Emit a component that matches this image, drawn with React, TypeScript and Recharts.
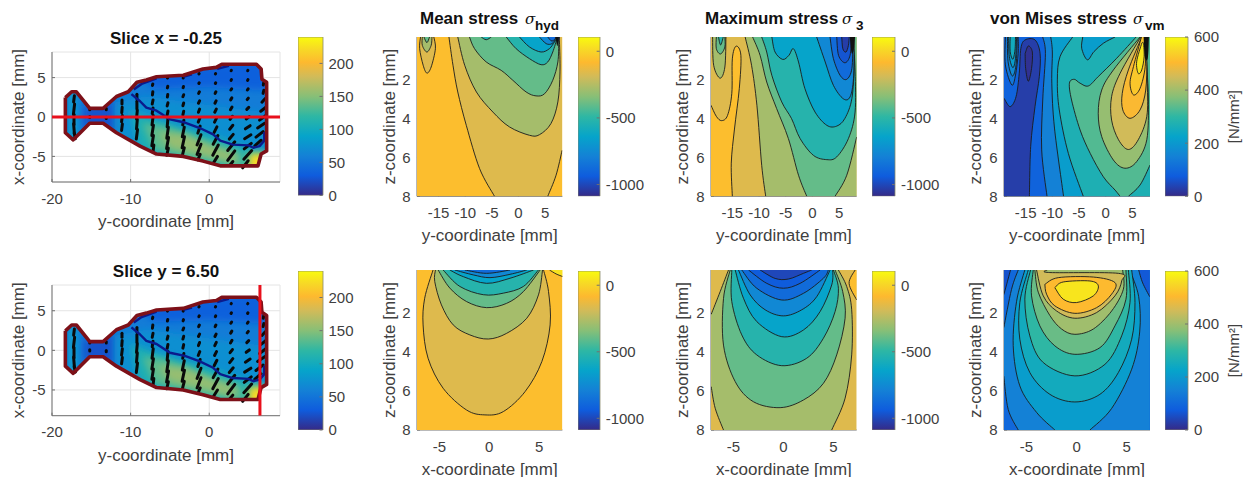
import React from 'react'
import { Bar, CartesianGrid, ComposedChart, Scatter, XAxis, YAxis } from 'recharts'

type Pt = [number, number]
type Seg = Pt[]
type Shape = Seg[]

const parula = ['#352a87', '#0f5cdd', '#1481d6', '#06a4ca', '#2eb7a4', '#87bf77', '#d1bb59', '#fdb92f', '#f7d826', '#f9fb0e']
const parulaStops = [0, 0.125, 0.25, 0.375, 0.5, 0.625, 0.75, 0.84, 0.92, 1]

// slice map, horizontal = y-coordinate, vertical = x-coordinate
const outline: Seg = [
  [-18.3, 2.46], [-17.5, 3.2], [-16.9, 3.2], [-15.2, 1.1], [-13.5, 1.1], [-11.8, 2.6], [-10.3, 3.2], [-9.2, 4.4], [-8, 4.7],
  [-6.7, 5.1], [-3.3, 5.3], [-0.8, 6.1], [0.9, 6.3], [1.6, 6.7], [6, 6.7], [6.6, 6.1], [6.7, 4.8], [7.3, 4.4], [7.3, -4.3],
  [6.6, -4.7], [6.2, -6.2], [1.4, -6.2], [-0.8, -5.6], [-3.3, -5], [-6.7, -4.7], [-8.8, -3.7], [-11.8, -2], [-13.5, -0.8],
  [-15.2, -0.8], [-17.3, -2.9], [-18.3, -2], [-18.3, 2.46],
]
const stressFront: Seg = [
  [-9.9, 2.9], [-8.8, 2], [-8, 1.2], [-6.7, 0.8], [-5, -0.3], [-3.1, -0.7], [-1.2, -1.4], [0.5, -2.2], [1.4, -3], [3, -3.5],
  [5, -3.6], [5.6, -3.9], [6.4, -3.7], [7, -3], [7, -1.9],
]
const frontTopA: Seg = [[-9.6, 3.5], [-8.6, 4.2], [-6.7, 4.9]]
const frontTopB: Seg = [[-3.3, 5.1], [-2.2, 5.4]]
const frontTopC: Seg = [[1, 6.1], [2.5, 6.5]]
const mapValues = [56, 34, 24, 88, 72, 108, 136, 156, 222]
const mapPatches: Seg[] = [
  [[-19, 4], [8, 8], [8, -8], [-19, -4]],
  [[-9, 5.5], [7, 7.5], [7.5, 3.4], [0, 3.8], [-7, 3.6]],
  [[-16, 1.4], [-12, 2], [-12, -2], [-16, -1.4]],
  [[-17.9, 3.2], [-17, 3.2], [-16.7, -3], [-17.9, -3]],
  [[-12, 1.8], [-8, 2.6], [0, 1.5], [7.5, 0.5], [7.5, -7], [-12, -3]],
  [[-10, 0.8], [-6, -0.6], [0, -2.2], [5, -4], [7.5, -4.5], [6, -7], [-2, -6], [-9, -4]],
  [[-8.5, -0.8], [-5.5, -1.2], [-1, -3], [4, -4.5], [4.5, -6.4], [0, -5.6], [-7, -4.2]],
  [[-6.5, -2], [-3, -2.2], [0, -3.6], [3.5, -4.7], [3.2, -5.8], [-1, -4.8], [-5, -3.9]],
  [[5, -4.6], [7.5, -4.6], [7.5, -7], [5, -7]],
]
// [y, x, dy, dx] of each black stroke
const quiver = [
  [-17.2, 2.3, 0.1, 0.8], [-17.2, 1, 0.15, 1.3], [-17.2, -0.3, 0, 1.3], [-17.2, -1.5, -0.1, 1.3], [-17.1, -2.4, -0.15, 0.7],
  [-15.2, 1, 0, 0.15], [-15.2, 0, 0, 0.15], [-13.1, 1, 0, 0.15], [-13.1, -0.1, 0, 0.15],
  [-11.1, 1.9, 0, 0.5], [-11.1, 0.9, 0.05, 0.7], [-11.1, -0.2, 0.1, 0.8], [-11.1, -1.3, 0.1, 0.8],
  [-9.2, 2.6, 0, 0.6], [-9.2, 1.5, 0, 1], [-9.2, 0.3, 0.1, 1.1], [-9.2, -0.9, 0.1, 1.2], [-9.2, -2.2, 0.15, 1.2],
  [-7.2, 4.1, 0.05, 0.2], [-7.2, 3, 0.05, 0.4], [-7.2, 1.9, 0.1, 0.5], [-7.2, 0.8, 0.1, 0.7], [-7.2, -0.4, 0.15, 1.2], [-7.2, -1.7, 0.2, 1.3], [-7.2, -3, 0.2, 1.3], [-7.1, -4, 0.1, 0.9],
  [-5.3, 5, 0.03, 0.1], [-5.3, 3.8, 0.05, 0.2], [-5.3, 2.7, 0.05, 0.3], [-5.3, 1.6, 0.1, 0.4], [-5.3, 0.5, 0.1, 0.5], [-5.3, -0.7, 0.1, 1.1], [-5.3, -2, 0.2, 1.4], [-5.3, -3.3, 0.25, 1.4], [-5.3, -4.4, 0.2, 0.9],
  [-3.3, 5, 0.03, 0.1], [-3.3, 3.8, 0.05, 0.15], [-3.3, 2.7, 0.1, 0.25], [-3.3, 1.6, 0.1, 0.35], [-3.3, 0.5, 0.1, 0.45], [-3.3, -0.7, 0.15, 0.6], [-3.3, -1.9, 0.25, 1.2], [-3.3, -3.2, 0.3, 1.4], [-3.3, -4.4, 0.25, 1],
  [-1.3, 5.5, 0.03, 0.05], [-1.3, 4.3, 0.05, 0.1], [-1.3, 3.1, 0.1, 0.2], [-1.3, 1.9, 0.15, 0.3], [-1.3, 0.8, 0.15, 0.4], [-1.3, -0.4, 0.2, 0.5], [-1.3, -1.6, 0.3, 0.9], [-1.3, -2.9, 0.5, 1.3], [-1.3, -4.1, 0.5, 1.3], [-1.3, -5.1, 0.3, 0.7],
  [0.8, 5.5, 0.03, 0.05], [0.8, 4.3, 0.05, 0.1], [0.8, 3.1, 0.1, 0.2], [0.8, 1.9, 0.15, 0.3], [0.8, 0.8, 0.2, 0.4], [0.8, -0.4, 0.25, 0.5], [0.8, -1.6, 0.35, 0.7], [0.8, -2.9, 0.6, 1.1], [0.8, -4.2, 0.7, 1.3], [0.8, -5.4, 0.5, 0.8],
  [2.8, 5.9, 0.03, 0.05], [2.8, 4.7, 0.05, 0.1], [2.8, 3.5, 0.1, 0.15], [2.8, 2.3, 0.15, 0.25], [2.8, 1.1, 0.2, 0.35], [2.8, -0.1, 0.3, 0.4], [2.8, -1.3, 0.4, 0.5], [2.8, -2.5, 0.5, 0.6], [2.8, -3.7, 0.9, 1.1], [2.8, -4.9, 0.9, 1.2], [2.8, -5.9, 0.4, 0.5],
  [4.9, 5.9, 0.03, 0.05], [4.9, 4.7, 0.05, 0.1], [4.9, 3.5, 0.1, 0.15], [4.9, 2.3, 0.15, 0.2], [4.9, 1.1, 0.25, 0.25], [4.9, -0.1, 0.4, 0.3], [4.9, -1.3, 0.6, 0.4], [4.9, -2.5, 0.8, 0.5], [4.9, -3.7, 0.9, 0.7], [4.9, -4.8, 1, 1.1], [4.6, -6, 0.7, 0.9],
  [6.9, 4.2, 0.05, 0.3], [6.9, 3.2, 0.1, 0.4], [6.9, 2.1, 0.4, 0.45], [6.9, 1, 0.7, 0.55], [6.8, -0.1, 0.8, 0.6], [6.6, -1.1, 0.9, 0.6], [6.4, -2.2, 0.9, 0.7], [6.2, -3.3, 0.8, 0.7],
]

// top row, horizontal = y-coordinate, vertical = z-coordinate
const hydTopLevels = [-160, -160, -280, -400, -280, -400, -520, -520, -640, -760, -880, -1000]
const hydTopCurves: Shape[] = [
  [[[-13.06, -0.17], [-12.3, 1.28], [-11.4, 2.65], [-9.8, 4.36], [-7.3, 6.58], [-4.5, 8]], [[5.5, 8], [7.06, 6.92], [8.2, 5.64]], [[8.2, -0.17]]],
  [[[-18.4, -0.17], [-18.56, 0.43], [-17.9, 1.28], [-17.2, 1.68], [-16.4, 1.37], [-15.6, 0.43], [-15.9, -0.17]]],
  [[[-11.4, -0.17], [-10.1, 1.28], [-7.9, 2.65], [-4.8, 3.68], [-1.7, 4.44], [2.06, 4.87], [3.94, 4.84], [6.1, 4.27], [7.4, 3.16], [7.8, 1.62], [7.7, 0.09], [7.6, -0.17]]],
  [[[-9.2, -0.17], [-8.25, 0.43], [-6.06, 1.11], [-3.25, 1.54], [-1.06, 2.05], [1.44, 2.65], [3.3, 2.85], [4.9, 2.74], [6.44, 2.05], [7.4, 1.11], [7.56, 0.09], [7.5, -0.17]]],
  [[[-18.06, -0.17], [-18.06, 0.26], [-17.2, 0.6], [-16.4, 0.26], [-16.25, -0.17]]],
  [[[-17.75, -0.17], [-17.2, 0.12], [-16.7, -0.17]]],
  [[[-2.3, -0.17], [-0.44, 0.43], [2.06, 0.94], [4.25, 1.25], [5.5, 1.11], [6.44, 0.6], [7.25, -0.1], [7.3, -0.17]]],
  [[[-7, -0.17], [-6.06, -0.03], [-5.1, -0.17]]],
  [[[0.19, -0.17], [2.06, 0.34], [4.25, 0.6], [5.8, 0.43], [6.75, 0.09], [7.4, -0.17]]],
  [[[3.94, -0.17], [5.2, 0.17], [6.3, 0.17], [7.06, -0.1], [7.4, -0.17]]],
  [[[5.5, -0.17], [6.3, 0.04], [7.2, -0.17]]],
  [[[6.9, -0.17], [7.4, 0.05], [7.7, -0.17]]],
]
const hydTopTip: Seg = [[7, -0.17], [7.3, 0.3], [7.6, -0.17]]

const maxTopLevels = [-70, -280, -280, -400, -400, -520, -520, -640, -760, -880, -960, -1030]
const maxTopCurves: Shape[] = [
  [[[-19, 3.33], [-18, 3.9], [-17, 4.12], [-15.9, 3.85], [-15.1, 2.72], [-15, 0.95], [-14.3, 0.3], [-13.4, 0.77], [-13.7, 2.48], [-14.6, 4.55], [-15.2, 6.3], [-15, 8]], [[-19, 8]]],
  [[[-12.6, -0.17], [-11.4, 1.28], [-10.4, 3.33], [-9.5, 6.41], [-8.75, 8]], [[8.3, 8]], [[8.3, -0.17]]],
  [[[-18.7, -0.17], [-18.5, 1.28], [-17.3, 1.94], [-16.4, 1.37], [-16.2, -0.17]]],
  [[[-11.2, -0.17], [-9.8, 0.77], [-8.56, 2.14], [-6.7, 3.5], [-4.5, 5.04], [-2.6, 6.92], [-1.06, 8]], [[4.25, 8], [6.44, 6.92], [8.3, 4.96]], [[8.3, -0.17]]],
  [[[-18, -0.17], [-18, 0.43], [-17.2, 0.7], [-16.4, 0.34], [-16.4, -0.17]]],
  [[[-9.5, -0.17], [-8.56, 0.6], [-7.6, 1.8], [-5.75, 3.16], [-3.9, 4.02], [-2.3, 5.04], [0.19, 5.9], [2.7, 6.12], [4.56, 5.98], [6.75, 5.04], [8, 3.68], [8, 1.62], [7.7, 0.09], [7.56, -0.17]]],
  [[[-17.6, -0.17], [-17.2, 0.24], [-16.7, -0.17]]],
  [[[-7.6, -0.17], [-7, 0.6], [-5.56, 0.98], [-4.4, 0.77], [-3.56, 0.43], [-2.6, 1.11], [-1.4, 2.48], [0.5, 3.68], [2.7, 4.36], [4.56, 4.4], [6.1, 4], [7.4, 2.99], [7.8, 1.28], [7.56, 0.09], [7.5, -0.17]]],
  [[[0.8, -0.17], [2.4, 1.11], [3.94, 2.31], [5.8, 3], [7.06, 2.9], [7.7, 1.97], [7.8, 0.26], [7.7, -0.17]]],
  [[[3.3, -0.17], [3.94, 0.94], [5.2, 1.8], [6.44, 2], [7.4, 1.45], [7.56, 0.09], [7.5, -0.17]]],
  [[[4.56, -0.17], [4.9, 0.77], [6.1, 1.15], [7.06, 0.77], [7.3, -0.17]]],
  [[[5.5, -0.17], [5.7, 0.43], [6.3, 0.6], [6.75, 0.26], [6.9, -0.17]]],
]
const maxTopTip: Seg = [[7, -0.17], [7.35, 0.65], [7.75, 0.5], [8, -0.17]]

const vmTopLevels = [30, 10, 130, 170, 210, 250, 150, 210, 270, 210, 330, 390, 450, 500, 525, 570]
const vmTopCurves: Shape[] = [
  [[[-19.06, 2.97], [-17.9, 3.4], [-16.8, 2.89], [-16.2, 1.69], [-15.9, 0.41], [-15.1, -0.02], [-13.25, -0.02], [-12.3, 0.67], [-12.44, 1.86], [-13.25, 3.4], [-14.06, 5.45], [-14.3, 8]], [[-19.06, 8]]],
  [[[-15.1, 0.68], [-14.5, 0.29], [-13.75, 0.6], [-13.9, 1.45], [-14.5, 2.1], [-15, 1.45], [-15.1, 0.68]]],
  [[[-18.8, -0.17], [-18.8, 1.26], [-17.6, 2.29], [-16.9, 1.78], [-16.4, 0.67], [-16.4, -0.17]]],
  [[[-18.4, -0.17], [-18.3, 1.09], [-17.5, 1.83], [-16.8, 1.26], [-16.56, -0.17]]],
  [[[-18.2, -0.17], [-18.06, 0.84], [-17.4, 1.4], [-16.9, 0.92], [-16.7, -0.17]]],
  [[[-17.9, -0.17], [-17.9, 0.58], [-17.4, 0.97], [-17, 0.5], [-16.9, -0.17]]],
  [[[-11.8, -0.17], [-11.3, 0.67], [-11.8, 3.06], [-12, 5.62], [-11, 8]], [[8.3, 8]], [[8.3, -0.17]]],
  [[[-10.3, -0.17], [-10, 0.6], [-10.1, 2.2], [-9.6, 4.5], [-7.9, 8]], [[8.3, 8]], [[8.3, -0.17]]],
  [[[-6.2, -0.17], [-8.56, 0.84], [-9.06, 2.03], [-8.7, 3.57], [-7, 5.8], [-4.2, 8]], [[8.3, 8]], [[8.3, -0.17]]],
  [[[-4.3, -0.17], [-4.5, 0.41], [-3.44, 1], [-2.2, 0.58], [-0.44, 0.15], [1.75, -0.17]]],
  [[[5.7, -0.17], [2.06, 0.92], [-1.4, 1.86], [-3.25, 2.34], [-4.8, 2.2], [-5.9, 2], [-6.8, 2.2], [-6.4, 3.06], [-4.8, 4.6], [-2.9, 5.8], [-0.44, 7], [1.75, 7.68], [2.7, 8]], [[4.25, 8], [6.44, 7.42], [8.3, 6.4]], [[8.3, -0.17]]],
  [[[6.44, -0.17], [1.44, 1.52], [-0.75, 2.55], [-1.4, 3.74], [-0.75, 4.94], [1.44, 6.14], [3.6, 6.56], [5.8, 6.22], [7.7, 5.1], [8, 3.06], [7.7, 1.35], [7.4, -0.17]]],
  [[[6.56, -0.17], [2.7, 1.69], [1.1, 2.89], [1.1, 4.09], [2.4, 5.1], [4.25, 5.6], [6.1, 5.1], [7.7, 3.9], [7.8, 2.2], [7.5, -0.17]]],
  [[[6.75, -0.17], [4.25, 1.52], [3.1, 2.72], [3.2, 3.57], [4.56, 4], [6.44, 3.57], [7.5, 2.55], [7.7, 1], [7.5, -0.17]]],
  [[[6.7, -0.17], [5.2, 1.35], [4.56, 2.2], [5.2, 2.8], [6.44, 2.46], [7.4, 1.35], [7.44, -0.17]]],
  [[[6.75, 0.15], [5.8, 1.1], [6.1, 1.7], [6.75, 1.52], [7.2, 0.84], [7.06, 0.15], [6.75, 0.15]]],
]
const vmTopTip: Seg = [[7.1, -0.17], [7.35, 0.9], [7.9, 0.9], [8.1, -0.17]]

// bottom row, horizontal = x-coordinate, vertical = z-coordinate
const hydBotLevels = [40, -160, -280, -400, -520, -640, -760, -880]
const hydBotCurves: Shape[] = [
  [[[6.04, -0.16], [6.7, 0.04], [7.38, 0.18]], [[7.38, -0.16]]],
  [[[-5.64, -0.16], [-6.48, 1.28], [-6.64, 2.64], [-6.14, 4.34], [-4.63, 5.87], [-2.28, 6.98], [-0.44, 7.23], [1.41, 7.06], [3.59, 6.04], [5.27, 4.51], [6.1, 2.64], [5.94, 0.94], [5.44, -0.16]]],
  [[[-5.4, -0.16], [-5.47, 0.43], [-4.8, 1.62], [-3.62, 2.64], [-1.95, 3.15], [-0.1, 3.36], [1.74, 3.07], [3.76, 2.3], [4.93, 1.11], [5.34, -0.16]]],
  [[[-5.13, -0.16], [-3.96, 0.76], [-2.28, 1.45], [-0.27, 1.76], [1.74, 1.54], [3.42, 0.94], [5.1, -0.16]]],
  [[[-4.63, -0.16], [-2.95, 0.68], [-0.6, 1.1], [1.41, 1.02], [3.42, 0.68], [4.93, -0.16]]],
  [[[-3.96, -0.16], [-2.6, 0.18], [-0.27, 0.52], [2.08, 0.26], [4.43, -0.16]]],
  [[[-3.46, -0.16], [-1.6, 0.09], [0.07, 0.23], [2.08, 0.06], [3.76, -0.16]]],
  [[[-2.45, -0.16], [-0.27, 0.01], [2.08, -0.16]]],
]

const maxBotLevels = [-70, -280, -400, -520, -640, -760, -880, -940, -1000]
const maxBotCurves: Shape[] = [
  [[[7.17, -0.16], [6.57, 0.52], [7.33, 1.37]], [[7.33, -0.16]]],
  [[[-5.5, -0.16], [-6.33, 0.94], [-7.23, 2.1]], [[-7.23, 5.79], [-6.83, 6.89], [-6, 8]], [[4.83, 8], [6.17, 6.38], [6.83, 4.17], [6.83, 1.87], [6.33, 0.68], [5.5, -0.16]]],
  [[[-5.33, -0.16], [-6, 1.3], [-6, 3.67], [-4.83, 5.53], [-3, 6.56], [-0.33, 6.86], [2, 6.47], [4, 5.62], [5.33, 4.17], [6.17, 2.3], [5.93, 0.94], [5.17, -0.16]]],
  [[[-5.17, -0.16], [-5.17, 1.45], [-4.17, 3.15], [-2.67, 4.17], [-0.17, 4.72], [2.33, 4.34], [4, 3.32], [5.17, 1.96], [5.5, 0.77], [5, -0.16]]],
  [[[-4.83, -0.16], [-4, 1.28], [-2.67, 2.47], [-0.17, 3.24], [2, 2.9], [3.67, 1.96], [4.83, 0.6], [4.93, -0.16]]],
  [[[-4.5, -0.16], [-3.33, 1.11], [-1.83, 1.87], [0, 2.18], [1.83, 1.87], [3.33, 1.2], [4.67, -0.16]]],
  [[[-4.17, -0.16], [-2.67, 0.77], [-0.17, 1.37], [2, 1.03], [4, 0.26], [4.5, -0.16]]],
  [[[-3.5, -0.16], [-1.67, 0.52], [0, 0.77], [1.67, 0.52], [3.67, -0.16]]],
  [[[-2.33, -0.16], [-0.83, 0.27], [0.5, 0.3], [2, 0.01], [2.83, -0.16]]],
]

const vmBotLevels = [150, 60, 70, 210, 250, 300, 350, 400, 450, 505, 570]
const vmBotCurves: Shape[] = [
  [[[-5.83, -0.16], [-6.5, 0.83], [-7.27, 2.78]], [[-7.27, 5.25], [-6.83, 6.95], [-5.83, 8]], [[7.3, 8]], [[7.3, -0.16]]],
  [[[-6.6, -0.16], [-7, 0.6], [-7.27, 1.1]], [[-7.27, -0.16]]],
  [[[6.2, -0.16], [6.6, 0.5], [7.3, 1.2]], [[7.3, -0.16]]],
  [[[-5.17, -0.16], [-6, 1.46], [-6.33, 3.7], [-5.67, 5.75], [-4, 7.1], [-2.17, 8]], [[1.33, 8], [3.5, 6.9], [5.5, 4.9], [6.3, 3], [6.2, 1.2], [5.3, -0.16]]],
  [[[-4.83, -0.16], [-5.67, 1.5], [-5.67, 3.37], [-4.67, 5.07], [-2.67, 6.18], [-0.17, 6.57], [2.33, 6.18], [4.17, 5.07], [5.5, 3.37], [5.83, 1.5], [5.5, -0.16]]],
  [[[-4.6, -0.16], [-5.17, 1.33], [-4.67, 3.2], [-3.33, 4.56], [-0.17, 5.24], [2.83, 4.65], [4.5, 3.2], [5.33, 1.5], [5.17, -0.16]]],
  [[[-4.33, -0.16], [-4.5, 1.16], [-3.67, 2.69], [-2.17, 3.71], [-0.17, 4.14], [2.33, 3.8], [3.83, 2.69], [4.93, 1.33], [4.93, -0.16]]],
  [[[-4.17, -0.16], [-3.83, 0.97], [-2.67, 2.16], [-1.5, 2.85], [-0.17, 3.12], [1.67, 2.85], [3.5, 1.93], [4.67, 0.82], [4.6, -0.16]]],
  [[[-4, -0.16], [-3.33, 1.16], [-2, 1.93], [-0.17, 2.3], [2, 2.01], [3.83, 1.16], [4.5, 0.4], [4.17, 0.01], [-2.67, -0.03], [-2.93, -0.16]]],
  [[[-3.17, 0.57], [-1.83, 0.23], [1.67, 0.2], [3.83, 0.48], [3.5, 1.07], [2, 1.76], [-0.17, 2.05], [-2.17, 1.67], [-3, 1.07], [-3.17, 0.57]]],
  [[[-2.17, 0.74], [-1.33, 0.45], [1.33, 0.4], [2.17, 0.65], [1.67, 1.16], [0, 1.5], [-1.33, 1.33], [-2.17, 0.74]]],
]

const sliceTicks = [0, 50, 100, 150, 200]
const stressTicks = [-1000, -500, 0]
const vmTicks = [0, 200, 400, 600]
const zTicks = [2, 4, 6, 8]
const yCoordTicks = [-15, -10, -5, 0, 5]
const xCoordTicks = [-5, 0, 5]

const TEXT = '#404040'
const FONT = '"Liberation Sans", Arial, sans-serif'

function hexRgb(h: string) {
  return [1, 3, 5].map((i) => parseInt(h.slice(i, i + 2), 16))
}

function colorAt(v: number, min: number, max: number) {
  const t = Math.max(0, Math.min(0.9999, (v - min) / (max - min)))
  let i = 0
  while (parulaStops[i + 1] <= t) i++
  const f = (t - parulaStops[i]) / (parulaStops[i + 1] - parulaStops[i])
  const a = hexRgb(parula[i])
  const b = hexRgb(parula[i + 1])
  const c = a.map((n, k) => Math.round(n + (b[k] - n) * f))
  return `rgb(${c.join(',')})`
}

// catmull-rom through the points, the M/L in front is up to the caller
function smoothTo(p: { x: number; y: number }[]) {
  let d = ''
  for (let i = 0; i < p.length - 1; i++) {
    const p0 = p[Math.max(i - 1, 0)]
    const p1 = p[i]
    const p2 = p[i + 1]
    const p3 = p[Math.min(i + 2, p.length - 1)]
    d += `C${p1.x + (p2.x - p0.x) / 6},${p1.y + (p2.y - p0.y) / 6} ${p2.x - (p3.x - p1.x) / 6},${p2.y - (p3.y - p1.y) / 6} ${p2.x},${p2.y}`
  }
  return d
}

const noDot = () => <g />

function toRows(pts: Seg) {
  return pts.map(([x, y]) => ({ x, y }))
}

function contour(key: string, shape: Shape, fill: string, stroke = true) {
  const sizes = shape.map((s) => s.length)
  const render = (props: any) => {
    const pts = props.points as { x: number; y: number }[]
    let at = 0
    let fillD = ''
    const lines: string[] = []
    sizes.forEach((n) => {
      const part = pts.slice(at, at + n)
      at += n
      fillD += `${fillD ? 'L' : 'M'}${part[0].x},${part[0].y}${smoothTo(part)}`
      if (n > 1) lines.push(`M${part[0].x},${part[0].y}${smoothTo(part)}`)
    })
    return (
      <g>
        <path d={fillD + 'Z'} fill={fill} stroke="none" />
        {stroke && <path d={lines.join('')} fill="none" stroke="#1c1c1c" strokeWidth={0.9} />}
      </g>
    )
  }
  return <Scatter key={key} data={toRows(shape.flat())} line={render} shape={noDot} isAnimationActive={false} legendType="none" />
}

function background(key: string, xd: number[], yd: number[], fill: string) {
  return contour(key, [[[xd[0], yd[0]]], [[xd[1], yd[0]]], [[xd[1], yd[1]]], [[xd[0], yd[1]]]], fill, false)
}

function linePath(pts: { x: number; y: number }[]) {
  return pts.map((p, i) => `${i ? 'L' : 'M'}${p.x},${p.y}`).join('')
}

function polyline(key: string, pts: Seg, stroke: string, width: number) {
  const render = (props: any) => (
    <path d={linePath(props.points)} fill="none" stroke={stroke} strokeWidth={width} strokeLinejoin="round" />
  )
  return <Scatter key={key} data={toRows(pts)} line={render} shape={noDot} isAnimationActive={false} legendType="none" />
}

function sliceMap(id: string, cut: Seg) {
  const clipId = `clip-${id}`
  const makeClip = (props: any) => (
    <clipPath id={clipId}>
      <path d={linePath(props.points) + 'Z'} />
    </clipPath>
  )
  const arrow = (p: any) => {
    const [, , dh, dv] = p.payload.q
    const k = 7.87 / 2
    return (
      <line x1={p.cx - dh * k} y1={p.cy + dv * k} x2={p.cx + dh * k} y2={p.cy - dv * k} stroke="#0a0a0a" strokeWidth={3} strokeLinecap="round" />
    )
  }
  const items = [
    <Scatter key="clip" data={toRows(outline)} line={makeClip} shape={noDot} isAnimationActive={false} legendType="none" />,
    ...mapPatches.map((patch, i) => {
      const render = (props: any) => (
        <path d={linePath(props.points) + 'Z'} fill={colorAt(mapValues[i], 0, 240)} clipPath={`url(#${clipId})`} filter={i ? `url(#soft-${id})` : undefined} />
      )
      return <Scatter key={`patch${i}`} data={toRows(patch)} line={render} shape={noDot} isAnimationActive={false} legendType="none" />
    }),
    <Scatter key="quiver" data={quiver.map((q) => ({ x: q[0], y: q[1], q }))} shape={arrow} isAnimationActive={false} legendType="none" />,
    polyline('frontA', frontTopA, '#0b1a8c', 2.4),
    polyline('frontB', frontTopB, '#0b1a8c', 2.4),
    polyline('frontC', frontTopC, '#0b1a8c', 2.4),
    polyline('front', stressFront, '#0b1a8c', 2.4),
    polyline('outline', outline, '#7d1018', 3.6),
    polyline('cut', cut, '#e8101c', 3),
  ]
  return (
    <>
      <defs>
        <filter id={`soft-${id}`} x="-30%" y="-30%" width="160%" height="160%">
          <feGaussianBlur stdDeviation="3.5" />
        </filter>
      </defs>
      {items}
    </>
  )
}

function bands(id: string, levels: number[], curves: Shape[], base: number, xd: number[], yd: number[], min: number, max: number, tip?: Seg) {
  return [
    background(`${id}-bg`, xd, yd, colorAt(base, min, max)),
    ...curves.map((c, i) => contour(`${id}-${i}`, c, colorAt(levels[i], min, max))),
    ...(tip ? [contour(`${id}-tip`, [tip], '#101010', false)] : []),
  ]
}

function Panel(props: any) {
  const { x, y, w, h, xDomain, yDomain, xTicks, yTicks, xLabel, yLabel, reversed, labelGap, grid, children } = props
  return (
    <div style={{ position: 'absolute', left: x - 50, top: y - 8 }}>
      <ComposedChart width={w + 60} height={h + 66} margin={{ top: 8, right: 10, left: 0, bottom: 0 }} style={{ fontFamily: FONT }}>
        {grid && <CartesianGrid stroke="#e4e4e4" strokeWidth={1} />}
        <XAxis dataKey="x" type="number" domain={xDomain} ticks={xTicks} interval={0} allowDataOverflow height={58} tickSize={-3} tickMargin={14}
          stroke="#707070" tick={{ fill: TEXT, fontSize: 15 }}
          label={{ value: xLabel, position: 'insideBottom', offset: 13, fill: TEXT, fontSize: 17 }} />
        <YAxis dataKey="y" type="number" domain={yDomain} ticks={yTicks} interval={0} allowDataOverflow reversed={reversed} width={50} tickSize={-3} tickMargin={9.5}
          stroke="#707070" tick={{ fill: TEXT, fontSize: 15 }}
          label={{ value: yLabel, angle: -90, position: 'insideLeft', offset: 50 - labelGap, fill: TEXT, fontSize: 17, style: { textAnchor: 'middle' } }} />
        {children}
      </ComposedChart>
    </div>
  )
}

function ColorBar({ id, x, y, w, h, min, max, ticks, unit }: any) {
  const rows = [{ k: 'c', range: [min, max] }]
  return (
    <div style={{ position: 'absolute', left: x, top: y - 10 }}>
      <ComposedChart width={w + 66} height={h + 20} data={rows} margin={{ top: 10, right: 0, left: 0, bottom: 10 }} barCategoryGap={0} style={{ fontFamily: FONT }}>
        <defs>
          <linearGradient id={id} x1="0" y1="1" x2="0" y2="0">
            {parula.map((c, i) => (
              <stop key={c} offset={parulaStops[i]} stopColor={c} />
            ))}
          </linearGradient>
        </defs>
        <XAxis dataKey="k" hide />
        <YAxis orientation="right" type="number" domain={[min, max]} ticks={ticks} interval={0} allowDataOverflow width={66} axisLine={false} tickSize={-3} tickMargin={9}
          stroke="#707070" tick={{ fill: TEXT, fontSize: 15 }}
          label={unit ? { value: unit, angle: -90, position: 'insideRight', offset: 0, dx: -20, fill: TEXT, fontSize: 15, style: { textAnchor: 'middle' } } : undefined} />
        <Bar dataKey="range" fill={`url(#${id})`} stroke="#8a8a6a" strokeWidth={0.8} isAnimationActive={false} />
      </ComposedChart>
    </div>
  )
}

function Title({ x, y, text, center, sub, sigmaX, subX }: any) {
  const base: React.CSSProperties = { position: 'absolute', top: y, whiteSpace: 'nowrap', color: '#111', lineHeight: '20px' }
  return (
    <>
      <div style={{ ...base, left: x, fontFamily: FONT, fontWeight: 'bold', fontSize: 17, transform: center ? 'translateX(-50%)' : undefined }}>{text}</div>
      {sub && <div style={{ ...base, left: sigmaX, fontFamily: '"DejaVu Serif", serif', fontStyle: 'italic', fontSize: 15 }}>σ</div>}
      {sub && <div style={{ ...base, left: subX, top: y + 7, fontFamily: FONT, fontWeight: 'bold', fontSize: 13.5 }}>{sub}</div>}
    </>
  )
}

const mapX = [-20, 9]
const mapY = [-8.25, 8.25]
const topX = [-19.06, 8.25]
const botX = [-7.25, 7.33]
const topZ = [-0.17, 8]
const botZ = [-0.16, 8]

export default function App() {
  return (
    <div style={{ position: 'absolute', left: 0, top: 0, width: 1251, height: 477, overflow: 'hidden', background: '#fff' }}>
      <Title x={166} y={29} text="Slice x = -0.25" center />
      <Title x={166} y={262} text="Slice y = 6.50" center />
      <Title x={420} y={9} text="Mean stress" sub="hyd" sigmaX={525} subX={535} />
      <Title x={705} y={9} text="Maximum stress" sub="3" sigmaX={842} subX={856} />
      <Title x={990} y={9} text="von Mises stress" sub="vm" sigmaX={1133} subX={1145} />

      <Panel x={52} y={51.7} w={228} h={130} xDomain={mapX} yDomain={mapY} xTicks={[-20, -10, 0]} yTicks={[-5, 0, 5]} xLabel="y-coordinate [mm]" yLabel="x-coordinate [mm]" labelGap={34} grid>
        {sliceMap('a', [[-20, 0], [9, 0]])}
      </Panel>
      <ColorBar id="cb-a" x={298} y={37.3} w={24.5} h={158.4} min={0} max={240} ticks={sliceTicks} />
      <Panel x={52} y={285} w={228} h={130.7} xDomain={mapX} yDomain={mapY} xTicks={[-20, -10, 0]} yTicks={[-5, 0, 5]} xLabel="y-coordinate [mm]" yLabel="x-coordinate [mm]" labelGap={34} grid>
        {sliceMap('e', [[6.45, -8.25], [6.45, 8.25]])}
      </Panel>
      <ColorBar id="cb-e" x={298} y={271} w={24.5} h={159} min={0} max={240} ticks={sliceTicks} />

      <Panel x={417.3} y={36.7} w={145.4} h={159.3} xDomain={topX} yDomain={topZ} xTicks={yCoordTicks} yTicks={zTicks} reversed xLabel="y-coordinate [mm]" yLabel="z-coordinate [mm]" labelGap={28}>
        {bands('b', hydTopLevels, hydTopCurves, -70, topX, topZ, -1088, 107, hydTopTip)}
      </Panel>
      <ColorBar id="cb-b" x={578.3} y={36.7} w={21.7} h={159.3} min={-1088} max={107} ticks={stressTicks} />
      <Panel x={711} y={36.7} w={145.7} h={159.3} xDomain={[-19, 8.3]} yDomain={topZ} xTicks={yCoordTicks} yTicks={zTicks} reversed xLabel="y-coordinate [mm]" yLabel="z-coordinate [mm]" labelGap={29}>
        {bands('c', maxTopLevels, maxTopCurves, -160, [-19, 8.3], topZ, -1088, 107, maxTopTip)}
      </Panel>
      <ColorBar id="cb-c" x={872} y={36.7} w={23} h={159.3} min={-1088} max={107} ticks={stressTicks} />
      <Panel x={1004} y={36.7} w={146} h={159.3} xDomain={[-19.06, 8.3]} yDomain={topZ} xTicks={yCoordTicks} yTicks={zTicks} reversed xLabel="y-coordinate [mm]" yLabel="z-coordinate [mm]" labelGap={29}>
        {bands('d', vmTopLevels, vmTopCurves, 90, [-19.06, 8.3], topZ, 0, 600, vmTopTip)}
      </Panel>
      <ColorBar id="cb-d" x={1165.3} y={36.7} w={23} h={159.3} min={0} max={600} ticks={vmTicks} unit="[N/mm²]" />

      <Panel x={417.3} y={270} w={145.4} h={160} xDomain={botX} yDomain={botZ} xTicks={xCoordTicks} yTicks={zTicks} reversed xLabel="x-coordinate [mm]" yLabel="z-coordinate [mm]" labelGap={28}>
        {bands('f', hydBotLevels, hydBotCurves, -70, botX, botZ, -1088, 107)}
      </Panel>
      <ColorBar id="cb-f" x={578.3} y={271} w={21.7} h={159} min={-1088} max={107} ticks={stressTicks} />
      <Panel x={711} y={270} w={145.7} h={160} xDomain={botX} yDomain={botZ} xTicks={xCoordTicks} yTicks={zTicks} reversed xLabel="x-coordinate [mm]" yLabel="z-coordinate [mm]" labelGap={29}>
        {bands('g', maxBotLevels, maxBotCurves, -160, botX, botZ, -1088, 107)}
      </Panel>
      <ColorBar id="cb-g" x={872} y={271} w={23} h={159} min={-1088} max={107} ticks={stressTicks} />
      <Panel x={1004} y={270} w={146} h={160} xDomain={botX} yDomain={botZ} xTicks={xCoordTicks} yTicks={zTicks} reversed xLabel="x-coordinate [mm]" yLabel="z-coordinate [mm]" labelGap={29}>
        {bands('h', vmBotLevels, vmBotCurves, 100, botX, botZ, 0, 600)}
      </Panel>
      <ColorBar id="cb-h" x={1165.3} y={271} w={23} h={159} min={0} max={600} ticks={vmTicks} unit="[N/mm²]" />
    </div>
  )
}
